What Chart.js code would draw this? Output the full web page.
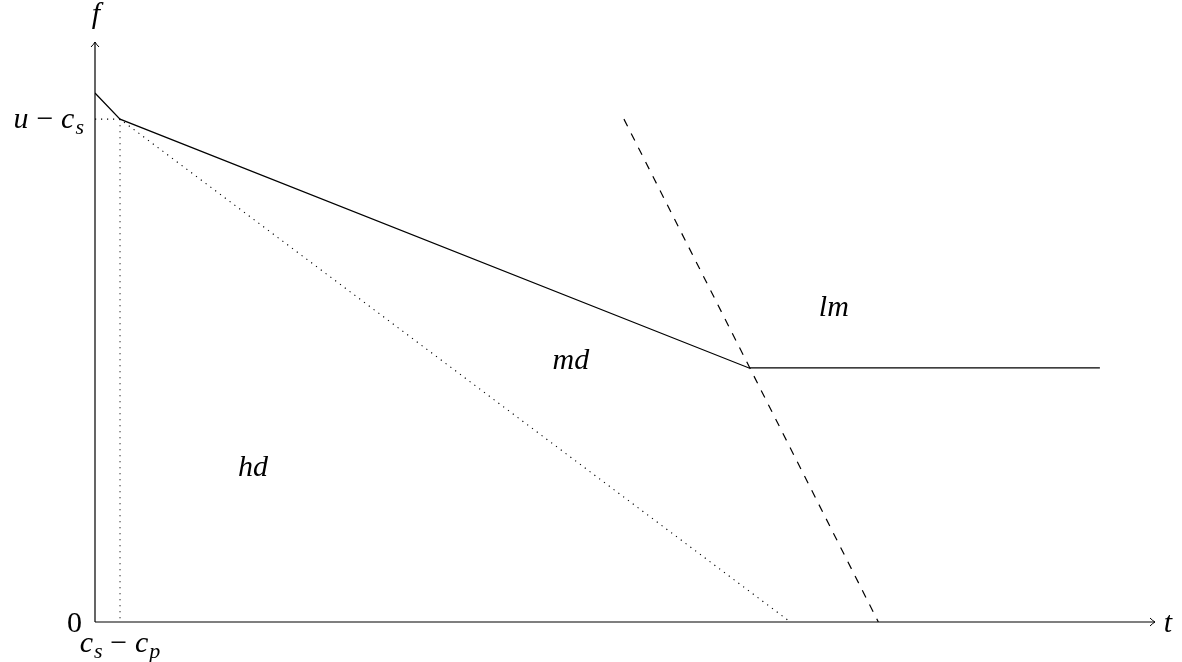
<!DOCTYPE html>
<html>
<head>
<meta charset="utf-8">
<script src="https://cdn.jsdelivr.net/npm/chart.js@4/dist/chart.umd.min.js"></script>
<style>
html,body{margin:0;padding:0;background:#fff;}
#c{display:block;}
</style>
</head>
<body>
<canvas id="c" width="1182" height="662"></canvas>
<script>
// ---- data ----
const solidX = [0, 0.236, 6.17, 9.48];
const solidY = [9.12, 8.67, 4.38, 4.38];
const dottedX = [0, 0.236, 6.56];
const dottedY = [8.67, 8.67, 0];
const dropX = [0.236, 0.236];
const dropY = [8.67, 0];
const dashedX = [4.99, 7.39];
const dashedY = [8.67, 0];
const yTickValues = [0, 8.67];
const yTickLabels = ['0', 'u − c_s'];
const xTickValues = [0.236];
const xTickLabels = ['c_s − c_p'];
const regionLabels = ['hd', 'md', 'lm'];
const regionX = [1.49, 4.49, 6.97];
const regionY = [2.67, 4.52, 5.43];
const xAxisTitle = 't';
const yAxisTitle = 'f';

const FS = 30;
const FAM = '"Times New Roman"';

function pts(xs, ys) { return xs.map((x, i) => ({x: x, y: ys[i]})); }

function runs(str) {
  const out = [];
  for (let i = 0; i < str.length; i++) {
    const ch = str[i];
    if (ch === ' ') continue;
    if (ch === '_') { out.push({t: str[i + 1], sub: true}); i++; continue; }
    if (ch === '−') { out.push({t: ch, op: true}); continue; }
    out.push({t: ch, digit: /[0-9]/.test(ch)});
  }
  return out;
}
function fontFor(r) {
  if (r.sub) return 'italic ' + Math.round(FS * 0.72) + 'px ' + FAM;
  if (r.op || r.digit) return FS + 'px ' + FAM;
  return 'italic ' + FS + 'px ' + FAM;
}
function measure(ctx, rs) {
  let w = 0;
  rs.forEach(r => {
    ctx.font = fontFor(r);
    const pad = r.op ? FS * 0.26 : 0;
    r.w = ctx.measureText(r.t).width + 2 * pad + (r.sub ? 1 : 0);
    r.pad = pad;
    w += r.w;
  });
  return w;
}
function drawMath(ctx, str, x, baseY, align) {
  const rs = runs(str);
  const w = measure(ctx, rs);
  let cx = align === 'right' ? x - w : align === 'center' ? x - w / 2 : x;
  ctx.textBaseline = 'alphabetic';
  ctx.textAlign = 'left';
  ctx.fillStyle = '#000';
  rs.forEach(r => {
    ctx.font = fontFor(r);
    const dy = r.sub ? FS * 0.2 : 0;
    ctx.fillText(r.t, cx + r.pad + (r.sub ? 1 : 0), baseY + dy);
    cx += r.w;
  });
}

const drawPlugin = {
  id: 'tikzLike',
  beforeDatasetsDraw(chart) {
    const ctx = chart.ctx;
    const xs = chart.scales.x, ys = chart.scales.y;
    const x0 = xs.getPixelForValue(0), x1 = xs.getPixelForValue(xs.max);
    const y0 = ys.getPixelForValue(0), y1 = ys.getPixelForValue(ys.max);
    ctx.save();
    ctx.strokeStyle = '#000';
    ctx.lineWidth = 1.2;
    ctx.beginPath();
    ctx.moveTo(x0, y0); ctx.lineTo(x1, y0);
    ctx.moveTo(x0, y0); ctx.lineTo(x0, y1);
    ctx.stroke();
    ctx.lineWidth = 1;
    ctx.beginPath();
    ctx.moveTo(x1 - 5, y0 - 4); ctx.quadraticCurveTo(x1 - 2, y0 - 1, x1, y0);
    ctx.quadraticCurveTo(x1 - 2, y0 + 1, x1 - 5, y0 + 4);
    ctx.moveTo(x0 - 4, y1 + 5); ctx.quadraticCurveTo(x0 - 1, y1 + 2, x0, y1);
    ctx.quadraticCurveTo(x0 + 1, y1 + 2, x0 + 4, y1 + 5);
    ctx.stroke();
    ctx.restore();
  },
  afterDraw(chart) {
    const ctx = chart.ctx;
    const xs = chart.scales.x, ys = chart.scales.y;
    const x0 = xs.getPixelForValue(0), x1 = xs.getPixelForValue(xs.max);
    const y0 = ys.getPixelForValue(0), y1 = ys.getPixelForValue(ys.max);
    ctx.save();
    yTickValues.forEach((v, i) => {
      const py = ys.getPixelForValue(v);
      const base = v === 0 ? py + 10 : py + 9;
      drawMath(ctx, yTickLabels[i], v === 0 ? x0 - 13 : x0 - 11, base, 'right');
    });
    xTickValues.forEach((v, i) => {
      drawMath(ctx, xTickLabels[i], xs.getPixelForValue(v), y0 + 30, 'center');
    });
    drawMath(ctx, yAxisTitle, x0 + 1, y1 - 19, 'center');
    drawMath(ctx, xAxisTitle, x1 + 13, y0 + 10, 'center');
    regionLabels.forEach((s, i) => {
      drawMath(ctx, s, xs.getPixelForValue(regionX[i]), ys.getPixelForValue(regionY[i]) + 9, 'center');
    });
    ctx.restore();
  }
};

const common = {borderColor: '#000', borderWidth: 1.2, pointRadius: 0, tension: 0, fill: false, borderCapStyle: 'butt'};

new Chart(document.getElementById('c'), {
  type: 'line',
  data: {
    datasets: [
      Object.assign({label: 'solid', data: pts(solidX, solidY)}, common),
      Object.assign({label: 'dotted', data: pts(dottedX, dottedY), borderDash: [1.2, 4.8]}, common, {borderWidth: 1.1}),
      Object.assign({label: 'drop', data: pts(dropX, dropY), borderDash: [1.2, 4.8]}, common, {borderWidth: 1.1}),
      Object.assign({label: 'dashed', data: pts(dashedX, dashedY), borderDash: [8, 8]}, common)
    ]
  },
  options: {
    responsive: false,
    animation: false,
    layout: {padding: {left: 95, right: 27, top: 42, bottom: 40}},
    plugins: {legend: {display: false}, tooltip: {enabled: false}},
    scales: {
      x: {type: 'linear', min: 0, max: 10, display: false},
      y: {type: 'linear', min: 0, max: 10, display: false}
    }
  },
  plugins: [drawPlugin]
});
</script>
</body>
</html>
